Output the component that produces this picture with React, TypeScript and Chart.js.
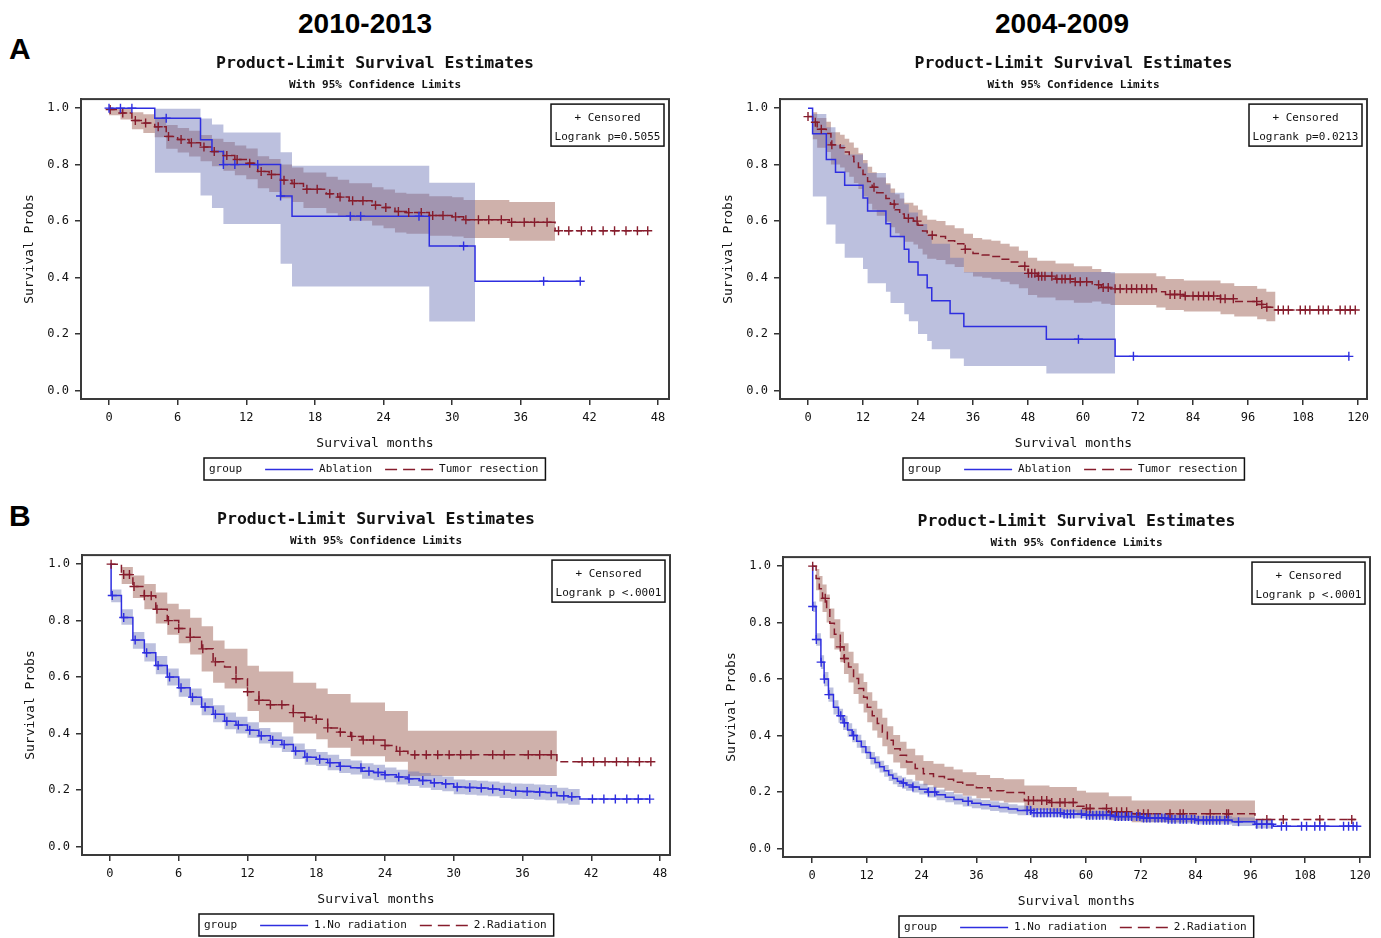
import React, { useEffect, useRef } from 'react';
import { Chart, registerables } from 'chart.js';

Chart.register(...registerables);

// ---------------- Data ----------------
const xTicks48 = [0, 6, 12, 18, 24, 30, 36, 42, 48];
const xTicks120 = [0, 12, 24, 36, 48, 60, 72, 84, 96, 108, 120];
const yTicks = [0, 0.2, 0.4, 0.6, 0.8, 1.0];

// Panel A, 2010-2013 : Ablation
const aL_ablT = [0, 4, 8, 9, 10, 15, 16, 28, 32, 41.2];
const aL_ablS = [1.0, 0.964, 0.888, 0.846, 0.8, 0.689, 0.617, 0.512, 0.387, 0.387];
const aL_ablCens = [0, 1, 2, 5, 10, 11, 13, 15, 21.1, 22, 27.1, 31, 38, 41.2];
const aL_ablCiT = [4, 8, 9, 10, 15, 16, 28, 32];
const aL_ablCiHi = [0.998, 0.963, 0.942, 0.914, 0.844, 0.796, 0.736, 0.736];
const aL_ablCiLo = [0.771, 0.691, 0.646, 0.59, 0.449, 0.368, 0.244, 0.244];
// Panel A, 2010-2013 : Tumor resection
const aL_resT = [0, 1, 2, 3, 4, 5, 6, 7, 8, 9, 10, 11, 12, 13, 14, 15, 16, 17, 19, 20, 21, 23, 24, 25, 26, 28, 30, 31, 35, 39, 47];
const aL_resS = [0.995, 0.983, 0.956, 0.947, 0.934, 0.9, 0.889, 0.877, 0.862, 0.846, 0.832, 0.818, 0.805, 0.776, 0.765, 0.745, 0.733, 0.713, 0.697, 0.685, 0.672, 0.656, 0.648, 0.634, 0.63, 0.62, 0.615, 0.605, 0.596, 0.566, 0.566];
const aL_resCens = [0.1, 1.2, 2.3, 3.2, 4.3, 5.2, 6.3, 7.2, 8.3, 9.2, 10.3, 11.2, 12.3, 13.3, 14.2, 15.3, 16.2, 17.3, 18.2, 19.3, 20.2, 21.3, 22.2, 23.3, 24.2, 25.3, 26.2, 27.3, 28.3, 29.2, 30.3, 31.2, 32.3, 33.2, 34.3, 35.2, 36.3, 37.2, 38.3, 39.3, 40.2, 41.3, 42.2, 43.2, 44.2, 45.2, 46.2, 47.1];
const aL_resCiT = [0, 1, 2, 3, 4, 5, 6, 7, 8, 9, 10, 11, 12, 13, 14, 15, 16, 17, 19, 20, 21, 23, 24, 25, 26, 28, 30, 31, 35, 39];
const aL_resCiHi = [1.0, 1.0, 0.985, 0.978, 0.968, 0.94, 0.93, 0.92, 0.905, 0.892, 0.88, 0.868, 0.857, 0.83, 0.82, 0.8, 0.79, 0.772, 0.757, 0.746, 0.734, 0.72, 0.712, 0.7, 0.697, 0.688, 0.684, 0.675, 0.668, 0.668];
const aL_resCiLo = [0.975, 0.96, 0.925, 0.912, 0.897, 0.856, 0.843, 0.829, 0.812, 0.794, 0.778, 0.762, 0.748, 0.716, 0.703, 0.681, 0.668, 0.646, 0.628, 0.615, 0.601, 0.584, 0.575, 0.56, 0.555, 0.548, 0.545, 0.54, 0.53, 0.53];

// Panel A, 2004-2009 : Ablation
const aR_ablT = [0, 1, 4, 6, 8, 12, 13, 17, 18, 21, 22, 24, 26, 27, 31, 34, 52, 67, 118];
const aR_ablS = [1.0, 0.909, 0.818, 0.773, 0.727, 0.682, 0.636, 0.591, 0.545, 0.5, 0.455, 0.409, 0.364, 0.318, 0.273, 0.227, 0.182, 0.121, 0.121];
const aR_ablCens = [59, 71, 118];
const aR_ablCiT = [1, 4, 6, 8, 12, 13, 17, 18, 21, 22, 24, 26, 27, 31, 34, 52, 67];
const aR_ablCiHi = [0.979, 0.932, 0.87, 0.836, 0.805, 0.77, 0.73, 0.7, 0.66, 0.63, 0.59, 0.55, 0.52, 0.47, 0.42, 0.42, 0.42];
const aR_ablCiLo = [0.687, 0.588, 0.52, 0.47, 0.43, 0.38, 0.35, 0.31, 0.27, 0.245, 0.2, 0.175, 0.146, 0.113, 0.087, 0.06, 0.06];
// Panel A, 2004-2009 : Tumor resection
const aR_resT = [0, 1, 2, 4, 5, 7, 8, 9, 10, 11, 12, 13, 14, 15, 17, 18, 19, 20, 21, 23, 24, 25, 26, 28, 30, 32, 34, 36, 38, 40, 42, 44, 46, 48, 50, 54, 58, 62, 64, 66, 76, 78, 82, 90, 93, 98, 100, 102, 119];
const aR_resS = [0.97, 0.95, 0.925, 0.91, 0.87, 0.86, 0.845, 0.83, 0.81, 0.79, 0.765, 0.74, 0.72, 0.7, 0.68, 0.66, 0.64, 0.625, 0.61, 0.6, 0.585, 0.565, 0.55, 0.545, 0.53, 0.52, 0.5, 0.485, 0.48, 0.475, 0.465, 0.455, 0.44, 0.415, 0.405, 0.395, 0.385, 0.375, 0.365, 0.36, 0.35, 0.34, 0.335, 0.325, 0.315, 0.305, 0.295, 0.285, 0.285];
const aR_resCens = [0, 1.6, 2.9, 5.2, 14.4, 18.8, 21.9, 23.8, 27.1, 34.3, 47.3, 48.1, 48.8, 49.5, 50.3, 51.0, 51.7, 53.2, 54.3, 55.4, 56.1, 57.2, 58.3, 59.4, 60.8, 63.4, 64.4, 65.5, 67.0, 68.1, 69.5, 70.6, 71.7, 72.8, 73.9, 75.0, 79.0, 80.0, 81.2, 82.3, 84.0, 85.2, 86.3, 87.4, 88.5, 90.0, 91.0, 92.8, 97.9, 99.0, 100.1, 102.6, 103.7, 104.8, 107.4, 108.5, 109.5, 111.4, 112.4, 113.5, 116.1, 117.2, 118.3, 119.4];
const aR_resCiT = [1, 2, 4, 5, 7, 8, 9, 10, 11, 12, 13, 14, 15, 17, 18, 19, 20, 21, 23, 24, 25, 26, 28, 30, 32, 34, 36, 38, 40, 42, 44, 46, 48, 50, 54, 58, 62, 64, 66, 76, 78, 82, 90, 93, 98, 100, 102];
const aR_resCiHi = [0.985, 0.965, 0.952, 0.915, 0.906, 0.892, 0.878, 0.86, 0.84, 0.816, 0.792, 0.773, 0.754, 0.734, 0.715, 0.695, 0.68, 0.665, 0.655, 0.64, 0.62, 0.605, 0.6, 0.585, 0.575, 0.555, 0.54, 0.535, 0.53, 0.52, 0.51, 0.495, 0.47, 0.46, 0.45, 0.44, 0.43, 0.42, 0.415, 0.405, 0.395, 0.39, 0.38, 0.37, 0.36, 0.35, 0.35];
const aR_resCiLo = [0.89, 0.86, 0.845, 0.8, 0.79, 0.773, 0.757, 0.735, 0.714, 0.687, 0.661, 0.64, 0.619, 0.598, 0.578, 0.557, 0.542, 0.527, 0.517, 0.502, 0.482, 0.467, 0.462, 0.447, 0.437, 0.418, 0.404, 0.399, 0.394, 0.385, 0.376, 0.362, 0.338, 0.329, 0.32, 0.311, 0.315, 0.307, 0.303, 0.294, 0.285, 0.28, 0.27, 0.262, 0.252, 0.245, 0.245];

// Panel B, 2010-2013 : 1.No radiation
const bL_noT = [0, 0.1, 1, 2, 3, 4, 5, 6, 7, 8, 9, 10, 11, 12, 13, 14, 15, 16, 17, 18, 19, 20, 21, 22, 23, 24, 25, 26, 27, 28, 29, 30, 31, 32, 33, 34, 35, 36, 37, 38, 39, 40, 41, 47];
const bL_noS = [1.0, 0.889, 0.811, 0.731, 0.686, 0.641, 0.6, 0.562, 0.529, 0.494, 0.468, 0.444, 0.43, 0.412, 0.392, 0.376, 0.361, 0.338, 0.316, 0.309, 0.297, 0.284, 0.279, 0.267, 0.262, 0.254, 0.246, 0.24, 0.234, 0.226, 0.222, 0.211, 0.209, 0.207, 0.204, 0.199, 0.196, 0.195, 0.193, 0.191, 0.18, 0.176, 0.168, 0.168];
const bL_noCens = [0.2, 1.2, 2.2, 3.2, 4.2, 5.2, 6.2, 7.2, 8.3, 9.2, 10.2, 11.2, 12.2, 13.2, 14.2, 15.2, 16.2, 17.2, 18.3, 19.2, 20.1, 21.9, 22.6, 23.4, 24.0, 25.2, 26.1, 27.3, 28.3, 29.3, 30.3, 31.4, 32.4, 33.4, 34.4, 35.4, 36.4, 37.5, 38.5, 39.6, 40.3, 42.1, 43.1, 44.1, 45.1, 46.1, 47.1];
const bL_noCiT = [0.1, 1, 2, 3, 4, 5, 6, 7, 8, 9, 10, 11, 12, 13, 14, 15, 16, 17, 18, 19, 20, 21, 22, 23, 24, 25, 26, 27, 28, 29, 30, 31, 32, 33, 34, 35, 36, 37, 38, 39, 40, 41];
const bL_noCiHi = [0.91, 0.84, 0.76, 0.72, 0.675, 0.63, 0.595, 0.56, 0.525, 0.5, 0.475, 0.46, 0.44, 0.42, 0.405, 0.39, 0.365, 0.345, 0.335, 0.325, 0.31, 0.305, 0.295, 0.29, 0.28, 0.272, 0.266, 0.26, 0.252, 0.248, 0.237, 0.235, 0.233, 0.23, 0.226, 0.223, 0.222, 0.22, 0.218, 0.208, 0.204, 0.204];
const bL_noCiLo = [0.865, 0.785, 0.7, 0.655, 0.61, 0.57, 0.53, 0.5, 0.465, 0.44, 0.415, 0.4, 0.385, 0.365, 0.35, 0.335, 0.31, 0.29, 0.285, 0.27, 0.26, 0.255, 0.24, 0.235, 0.228, 0.22, 0.214, 0.208, 0.2, 0.196, 0.185, 0.183, 0.181, 0.178, 0.172, 0.169, 0.168, 0.166, 0.164, 0.152, 0.148, 0.148];
// Panel B, 2010-2013 : 2.Radiation
const bL_radT = [0, 1, 2, 3, 4, 5, 6, 7, 8, 9, 10, 11, 12, 13, 14, 16, 17, 18, 19, 20, 21, 22, 24, 25, 26, 39, 47];
const bL_radS = [1.0, 0.963, 0.921, 0.888, 0.84, 0.8, 0.772, 0.741, 0.7, 0.654, 0.636, 0.594, 0.548, 0.518, 0.502, 0.474, 0.458, 0.451, 0.42, 0.405, 0.39, 0.377, 0.358, 0.337, 0.325, 0.3, 0.3];
const bL_radCens = [0.1, 1.2, 1.7, 2.1, 3.0, 3.6, 4.1, 5.1, 6.0, 7.0, 8.1, 9.2, 11.0, 12.0, 13.0, 14.0, 15.0, 16.0, 17.0, 18.0, 19.0, 20.1, 21.1, 22.1, 23.0, 24.0, 25.3, 26.6, 27.6, 28.6, 29.6, 30.6, 31.5, 33.4, 34.4, 36.5, 37.5, 38.5, 41.2, 42.2, 43.2, 44.2, 45.2, 46.2, 47.2];
const bL_radCiT = [1, 2, 3, 4, 5, 6, 7, 8, 9, 10, 12, 13, 16, 18, 19, 21, 24, 26, 39];
const bL_radCiHi = [0.99, 0.96, 0.93, 0.9, 0.86, 0.84, 0.81, 0.78, 0.73, 0.7, 0.64, 0.62, 0.58, 0.56, 0.54, 0.51, 0.48, 0.41, 0.41];
const bL_radCiLo = [0.93, 0.88, 0.84, 0.79, 0.75, 0.72, 0.68, 0.62, 0.58, 0.56, 0.48, 0.44, 0.4, 0.38, 0.35, 0.32, 0.3, 0.25, 0.25];

// Panel B, 2004-2009 : 1.No radiation
const bR_noT = [0, 0.15, 0.9, 1.95, 2.65, 3.6, 4.7, 5.8, 6.8, 7.8, 8.8, 9.8, 10.8, 11.8, 12.8, 13.8, 14.8, 15.8, 16.8, 17.7, 18.7, 19.7, 20.6, 22, 23.5, 25.3, 27.3, 29.2, 31.1, 33, 35, 37, 39, 41, 43, 45, 48, 55, 60, 66, 72, 78, 84, 92, 97, 101, 119];
const bR_noS = [1.0, 0.857, 0.74, 0.66, 0.6, 0.545, 0.5, 0.47, 0.445, 0.42, 0.4, 0.38, 0.36, 0.34, 0.32, 0.305, 0.29, 0.275, 0.26, 0.248, 0.238, 0.232, 0.225, 0.218, 0.21, 0.2, 0.19, 0.182, 0.174, 0.167, 0.16, 0.155, 0.15, 0.145, 0.14, 0.135, 0.127, 0.122, 0.118, 0.113, 0.108, 0.104, 0.1, 0.095, 0.086, 0.079, 0.079];
const bR_noCens = [0.15, 0.95, 2.0, 2.7, 3.7, 6.3, 7.1, 9.1, 20.0, 22.1, 25.5, 26.9, 34.2, 47.1, 47.9, 48.6, 49.3, 50.1, 50.8, 51.5, 52.2, 53.0, 53.7, 54.4, 55.2, 55.9, 56.6, 57.3, 59.0, 60.1, 60.8, 61.5, 62.3, 63.0, 63.7, 64.5, 65.3, 66.4, 67.1, 67.8, 68.6, 69.3, 70.0, 71.1, 71.8, 72.6, 73.3, 74.0, 75.1, 75.8, 76.6, 77.3, 78.0, 78.8, 79.5, 80.6, 81.3, 82.0, 83.1, 83.8, 84.6, 85.7, 86.4, 87.1, 87.8, 88.6, 89.3, 90.4, 91.1, 93.4, 97.4, 98.5, 99.6, 100.7, 102.8, 103.9, 107.2, 108.3, 110.1, 111.2, 112.3, 116.4, 117.5, 118.5, 119.3];
const bR_noCiT = [0.15, 0.9, 1.95, 2.65, 3.6, 4.7, 5.8, 6.8, 7.8, 8.8, 9.8, 10.8, 11.8, 12.8, 13.8, 14.8, 15.8, 16.8, 17.7, 18.7, 19.7, 20.6, 22, 23.5, 25.3, 27.3, 29.2, 31.1, 33, 35, 37, 39, 41, 43, 45, 48, 55, 60, 66, 72, 78, 84, 92, 97, 101];
const bR_noCiHi = [0.875, 0.762, 0.684, 0.625, 0.57, 0.525, 0.495, 0.47, 0.444, 0.424, 0.403, 0.383, 0.363, 0.342, 0.327, 0.311, 0.296, 0.281, 0.268, 0.258, 0.252, 0.245, 0.238, 0.229, 0.219, 0.209, 0.2, 0.192, 0.185, 0.177, 0.172, 0.167, 0.162, 0.157, 0.152, 0.143, 0.137, 0.133, 0.128, 0.123, 0.119, 0.115, 0.11, 0.101, 0.094];
const bR_noCiLo = [0.838, 0.718, 0.636, 0.575, 0.52, 0.475, 0.445, 0.42, 0.396, 0.376, 0.357, 0.337, 0.317, 0.298, 0.283, 0.269, 0.254, 0.239, 0.228, 0.218, 0.212, 0.205, 0.198, 0.191, 0.181, 0.171, 0.164, 0.156, 0.149, 0.143, 0.138, 0.133, 0.128, 0.123, 0.118, 0.111, 0.107, 0.103, 0.098, 0.093, 0.089, 0.085, 0.08, 0.071, 0.064];
// Panel B, 2004-2009 : 2.Radiation
const bR_radT = [0.15, 0.9, 1.6, 2.3, 3.2, 3.9, 4.9, 6.2, 7.0, 8.0, 9.1, 10.2, 11.3, 12.1, 13.2, 14.3, 15.4, 16.5, 17.8, 19.3, 20.7, 22.6, 24.4, 26.6, 29, 31, 33, 36, 39, 42, 46.5, 52, 58, 60, 65, 70, 97, 119];
const bR_radS = [1.0, 0.956, 0.92, 0.886, 0.851, 0.798, 0.759, 0.714, 0.673, 0.643, 0.602, 0.567, 0.536, 0.5, 0.47, 0.443, 0.412, 0.383, 0.353, 0.33, 0.306, 0.283, 0.265, 0.255, 0.245, 0.235, 0.225, 0.215, 0.205, 0.198, 0.17, 0.163, 0.15, 0.142, 0.13, 0.123, 0.103, 0.103];
const bR_radCens = [0.15, 2.9, 6.2, 7.1, 47.4, 48.5, 50.3, 51.4, 52.5, 54.3, 55.4, 57.2, 60.1, 60.9, 64.5, 65.6, 66.7, 67.8, 68.9, 71.4, 72.6, 73.6, 78.4, 80.6, 81.3, 87.2, 90.8, 91.2, 99.6, 103.2, 111.2, 118.2];
const bR_radCiT = [0.9, 1.6, 2.3, 3.2, 3.9, 4.9, 6.2, 7.0, 8.0, 9.1, 10.2, 11.3, 12.1, 13.2, 14.3, 15.4, 16.5, 17.8, 19.3, 20.7, 22.6, 24.4, 26.6, 29, 31, 33, 36, 39, 42, 46.5, 52, 58, 60, 65, 70, 97];
const bR_radCiHi = [0.99, 0.965, 0.935, 0.9, 0.85, 0.812, 0.768, 0.727, 0.697, 0.656, 0.62, 0.59, 0.553, 0.523, 0.495, 0.463, 0.433, 0.402, 0.378, 0.353, 0.33, 0.31, 0.3, 0.29, 0.28, 0.27, 0.26, 0.25, 0.245, 0.223, 0.218, 0.205, 0.198, 0.185, 0.17, 0.17];
const bR_radCiLo = [0.915, 0.875, 0.838, 0.8, 0.745, 0.705, 0.66, 0.618, 0.588, 0.547, 0.513, 0.482, 0.447, 0.418, 0.392, 0.362, 0.334, 0.305, 0.284, 0.261, 0.24, 0.224, 0.215, 0.205, 0.196, 0.187, 0.178, 0.169, 0.163, 0.136, 0.13, 0.118, 0.111, 0.1, 0.093, 0.093];

// ---------------- Styling ----------------
const MONO = '"DejaVu Sans Mono", monospace';
const BLUE = '#2e2ee0';
const RED = '#861c2c';
const BLUE_BAND = 'rgba(106,115,182,0.45)';
const RED_BAND = 'rgba(140,70,55,0.42)';
const TXT = '#111';

type Curve = { t: number[]; s: number[]; cens: number[]; ciT: number[]; ciHi: number[]; ciLo: number[] };
type Panel = {
  blue: Curve; red: Curve; xMin: number; xMax: number; xTicks: number[];
  labels: [string, string]; pText: string;
};

const stepValue = (ts: number[], ss: number[], t: number) => {
  let v = ss[0];
  for (let i = 0; i < ts.length; i++) {
    if (ts[i] <= t) v = ss[i]; else break;
  }
  return v;
};
const pts = (t: number[], s: number[]) => t.map((x, i) => ({ x, y: s[i] }));

const kmDecor = {
  id: 'kmDecor',
  afterDraw(chart: any, _args: any, opts: any) {
    const { ctx, chartArea: a } = chart;
    ctx.save();
    // frame
    ctx.strokeStyle = '#3a3a3a';
    ctx.lineWidth = 2;
    ctx.strokeRect(a.left, a.top, a.right - a.left, a.bottom - a.top);
    // inset box
    ctx.font = `11px ${MONO}`;
    const pw = ctx.measureText(opts.pText).width;
    const bw = Math.round(pw + 7), bh = 42;
    const bx = a.right - 5 - bw, by = a.top + 5;
    ctx.fillStyle = '#fff';
    ctx.fillRect(bx, by, bw, bh);
    ctx.lineWidth = 1.5;
    ctx.strokeStyle = '#111';
    ctx.strokeRect(bx, by, bw, bh);
    ctx.fillStyle = TXT;
    ctx.textAlign = 'center';
    ctx.textBaseline = 'middle';
    ctx.fillText('+ Censored', bx + bw / 2, by + 14);
    ctx.fillText(opts.pText, bx + bw / 2, by + 33);
    // legend box
    const gw = ctx.measureText('group').width;
    const l1 = ctx.measureText(opts.labels[0]).width;
    const l2 = ctx.measureText(opts.labels[1]).width;
    const W = 5 + gw + 23 + 48 + 6 + l1 + 13 + 48 + 6 + l2 + 7;
    const lx = Math.round((a.left + a.right) / 2 - W / 2);
    const ly = a.bottom + 59, lh = 22;
    ctx.strokeRect(lx, ly, W, lh);
    const cy = ly + lh / 2 + 0.5;
    ctx.textAlign = 'left';
    let x = lx + 5;
    ctx.fillText('group', x, cy);
    x += gw + 23;
    ctx.strokeStyle = BLUE;
    ctx.lineWidth = 1.5;
    ctx.beginPath(); ctx.moveTo(x, cy); ctx.lineTo(x + 48, cy); ctx.stroke();
    x += 54;
    ctx.fillText(opts.labels[0], x, cy);
    x += l1 + 13;
    ctx.strokeStyle = RED;
    ctx.setLineDash([12, 6]);
    ctx.beginPath(); ctx.moveTo(x, cy); ctx.lineTo(x + 48, cy); ctx.stroke();
    ctx.setLineDash([]);
    x += 54;
    ctx.fillText(opts.labels[1], x, cy);
    ctx.restore();
  },
};

function buildConfig(p: Panel): any {
  const band = (c: Curve, color: string) => [
    { data: pts(c.ciT, c.ciHi), borderColor: 'rgba(0,0,0,0)', borderWidth: 0, pointRadius: 0, fill: false, stepped: 'before', order: 3 },
    { data: pts(c.ciT, c.ciLo), borderColor: 'rgba(0,0,0,0)', borderWidth: 0, pointRadius: 0, fill: '-1', backgroundColor: color, stepped: 'before', order: 3 },
  ];
  const line = (c: Curve, color: string, dash: number[]) => ({
    data: pts(c.t, c.s), borderColor: color, borderWidth: 1.5, borderDash: dash, pointRadius: 0, fill: false, stepped: 'before', order: 2,
  });
  const cens = (c: Curve, color: string) => ({
    data: c.cens.map((x) => ({ x, y: stepValue(c.t, c.s, x) })),
    showLine: false, pointStyle: 'cross', pointRadius: 4.5, pointBorderWidth: 1.4,
    borderColor: color, backgroundColor: color, order: 1,
  });
  const tickFont = { family: MONO, size: 12 };
  return {
    type: 'line',
    data: {
      datasets: [
        ...band(p.blue, BLUE_BAND),
        ...band(p.red, RED_BAND),
        line(p.blue, BLUE, []),
        line(p.red, RED, [8, 4]),
        cens(p.blue, BLUE),
        cens(p.red, RED),
      ],
    },
    options: {
      animation: false,
      responsive: false,
      devicePixelRatio: 1,
      events: [],
      layout: { padding: { left: 0, right: 12, top: 0, bottom: 31 } },
      plugins: {
        legend: { display: false },
        tooltip: { enabled: false },
        title: {
          display: true, text: 'Product-Limit Survival Estimates', fullSize: false, color: TXT,
          font: { family: MONO, size: 16.5, weight: 'bold', lineHeight: 1.2 },
          padding: { top: 14.1, bottom: 0 },
        },
        subtitle: {
          display: true, text: 'With 95% Confidence Limits', fullSize: false, color: TXT,
          font: { family: MONO, size: 11, weight: 'bold', lineHeight: 1.2 },
          padding: { top: 4.8, bottom: 7.2 },
        },
        kmDecor: { labels: p.labels, pText: p.pText },
      },
      scales: {
        x: {
          type: 'linear', min: p.xMin, max: p.xMax, bounds: 'data',
          afterBuildTicks: (ax: any) => { ax.ticks = p.xTicks.map((v) => ({ value: v })); },
          afterFit: (s: any) => { s.height = 52; },
          grid: { drawOnChartArea: false, drawTicks: true, tickLength: 6, color: '#333', lineWidth: 1.5 },
          border: { display: true, color: '#3a3a3a', width: 2 },
          ticks: { padding: 6, font: tickFont, color: TXT, autoSkip: false, maxRotation: 0, callback: (v: any) => String(v) },
          title: { display: true, text: 'Survival months', color: TXT, font: { family: MONO, size: 13, lineHeight: 1.2 }, padding: { top: 0, bottom: 0 } },
        },
        y: {
          type: 'linear', min: -0.03, max: 1.032, bounds: 'data',
          afterBuildTicks: (ax: any) => { ax.ticks = yTicks.map((v) => ({ value: v })); },
          afterFit: (s: any) => { s.width = 81; },
          grid: { drawOnChartArea: false, drawTicks: true, tickLength: 6, color: '#333', lineWidth: 1.5 },
          border: { display: true, color: '#3a3a3a', width: 2 },
          ticks: { padding: 6, font: tickFont, color: TXT, autoSkip: false, callback: (v: any) => Number(v).toFixed(1) },
          title: { display: true, text: 'Survival Probs', color: TXT, font: { family: MONO, size: 13, lineHeight: 1.2 }, padding: { top: 22, bottom: 0 } },
        },
      },
    },
    plugins: [kmDecor],
  };
}

const panelAL: Panel = {
  blue: { t: aL_ablT, s: aL_ablS, cens: aL_ablCens, ciT: aL_ablCiT, ciHi: aL_ablCiHi, ciLo: aL_ablCiLo },
  red: { t: aL_resT, s: aL_resS, cens: aL_resCens, ciT: aL_resCiT, ciHi: aL_resCiHi, ciLo: aL_resCiLo },
  xMin: -2.45, xMax: 48.96, xTicks: xTicks48, labels: ['Ablation', 'Tumor resection'], pText: 'Logrank p=0.5055',
};
const panelAR: Panel = {
  blue: { t: aR_ablT, s: aR_ablS, cens: aR_ablCens, ciT: aR_ablCiT, ciHi: aR_ablCiHi, ciLo: aR_ablCiLo },
  red: { t: aR_resT, s: aR_resS, cens: aR_resCens, ciT: aR_resCiT, ciHi: aR_resCiHi, ciLo: aR_resCiLo },
  xMin: -6.11, xMax: 121.96, xTicks: xTicks120, labels: ['Ablation', 'Tumor resection'], pText: 'Logrank p=0.0213',
};
const panelBL: Panel = {
  blue: { t: bL_noT, s: bL_noS, cens: bL_noCens, ciT: bL_noCiT, ciHi: bL_noCiHi, ciLo: bL_noCiLo },
  red: { t: bL_radT, s: bL_radS, cens: bL_radCens, ciT: bL_radCiT, ciHi: bL_radCiHi, ciLo: bL_radCiLo },
  xMin: -2.44, xMax: 48.87, xTicks: xTicks48, labels: ['1.No radiation', '2.Radiation'], pText: 'Logrank p <.0001',
};
const panelBR: Panel = {
  blue: { t: bR_noT, s: bR_noS, cens: bR_noCens, ciT: bR_noCiT, ciHi: bR_noCiHi, ciLo: bR_noCiLo },
  red: { t: bR_radT, s: bR_radS, cens: bR_radCens, ciT: bR_radCiT, ciHi: bR_radCiHi, ciLo: bR_radCiLo },
  xMin: -6.35, xMax: 122.19, xTicks: xTicks120, labels: ['1.No radiation', '2.Radiation'], pText: 'Logrank p <.0001',
};

function KMChart({ panel, left, top, w, h }: { panel: Panel; left: number; top: number; w: number; h: number }) {
  const ref = useRef<HTMLCanvasElement>(null);
  useEffect(() => {
    const chart = new Chart(ref.current as HTMLCanvasElement, buildConfig(panel));
    return () => chart.destroy();
  }, [panel]);
  return (
    <canvas
      ref={ref}
      width={w}
      height={h}
      style={{ position: 'absolute', left, top, width: w, height: h }}
    />
  );
}

const headStyle: React.CSSProperties = {
  position: 'absolute', fontFamily: '"Liberation Sans", Arial, sans-serif', fontWeight: 'bold', color: '#000',
};

export default function App() {
  return (
    <div style={{ position: 'absolute', left: 0, top: 0, width: 1381, height: 938, overflow: 'hidden', background: '#fff' }}>
      <div style={{ ...headStyle, left: 265, top: 9.7, width: 200, textAlign: 'center', fontSize: 28, lineHeight: '28px' }}>2010-2013</div>
      <div style={{ ...headStyle, left: 962, top: 9.7, width: 200, textAlign: 'center', fontSize: 28, lineHeight: '28px' }}>2004-2009</div>
      <div style={{ ...headStyle, left: 9, top: 34.4, fontSize: 30, lineHeight: '30px' }}>A</div>
      <div style={{ ...headStyle, left: 9, top: 501, fontSize: 30, lineHeight: '30px' }}>B</div>
      <KMChart panel={panelAL} left={0} top={40} w={681} h={442} />
      <KMChart panel={panelAR} left={699} top={40} w={680} h={442} />
      <KMChart panel={panelBL} left={1} top={496} w={681} h={442} />
      <KMChart panel={panelBR} left={702} top={498} w={680} h={442} />
    </div>
  );
}
